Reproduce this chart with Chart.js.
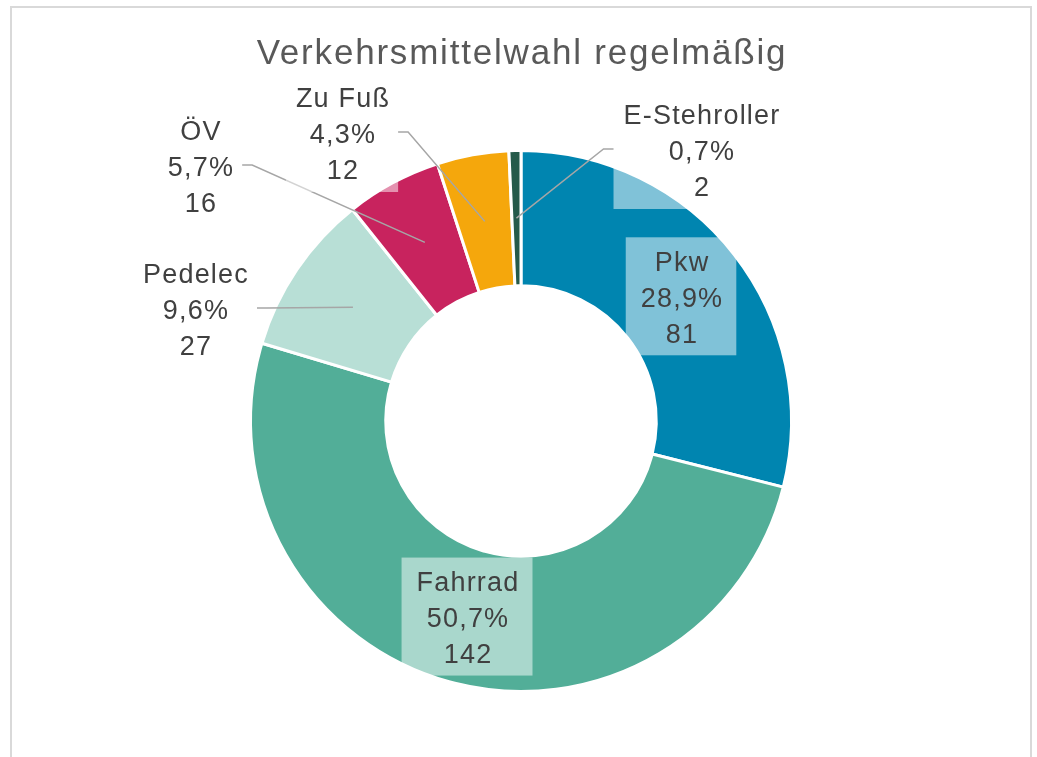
<!DOCTYPE html>
<html>
<head>
<meta charset="utf-8">
<script src="https://cdn.jsdelivr.net/npm/chart.js@4/dist/chart.umd.min.js"></script>
<style>
  html, body { margin: 0; padding: 0; background: #fff; overflow: hidden; }
  #wrap { position: relative; width: 1037px; height: 757px; }
  #frame { position: absolute; left: 10px; top: 6px; width: 1022px; height: 800px; border: 2px solid #d9d9d9; box-sizing: border-box; }
  #box { position: absolute; left: 0; top: 0; width: 1037px; height: 757px; }
</style>
</head>
<body>
<div id="wrap">
  <div id="frame"></div>
  <div id="box"><canvas id="chart"></canvas></div>
</div>
<script>
const chartTitle = 'Verkehrsmittelwahl regelmäßig';
const categories = ['Pkw', 'Fahrrad', 'Pedelec', 'ÖV', 'Zu Fuß', 'E-Stehroller'];
const counts = [81, 142, 27, 16, 12, 2];
const sliceColors = ['#0085b0', '#52ae98', '#b8dfd6', '#c8235e', '#f5a70c', '#255a4a'];

// where each label sits: null = on the slice, else offset from the doughnut centre
const labelOffsets = [null, null, [-326, -112], [-321, -255], [-179, -288], [180, -271]];

const total = counts.reduce((a, b) => a + b, 0);
const pct = v => (v / total * 100).toFixed(1).replace('.', ',') + '%';

const sliceLabels = {
  id: 'sliceLabels',
  afterDatasetsDraw(chart) {
    const { ctx, chartArea } = chart;
    const meta = chart.getDatasetMeta(0);

    // title
    ctx.save();
    ctx.font = '35px "Liberation Sans", Arial, sans-serif';
    ctx.letterSpacing = '1.8px';
    ctx.fillStyle = '#595959';
    ctx.textAlign = 'center';
    ctx.textBaseline = 'alphabetic';
    ctx.fillText(chartTitle, (chartArea.left + chartArea.right) / 2 + 1, 64);
    ctx.restore();

    ctx.save();
    ctx.font = '27px "Liberation Sans", Arial, sans-serif';
    ctx.letterSpacing = '1.2px';
    const lineH = 36;
    meta.data.forEach((arc, i) => {
      const lines = [categories[i], pct(counts[i]), String(counts[i])];
      const anchor = arc.tooltipPosition();
      const off = labelOffsets[i];
      const cx = off ? arc.x + off[0] : anchor.x;
      const cy = off ? arc.y + off[1] : anchor.y;
      const padX = off ? 9 : 14;
      const w = Math.max(...lines.map(t => ctx.measureText(t).width)) + padX * 2;
      const h = lines.length * lineH + 10;
      const left = cx - w / 2, top = cy - h / 2;

      ctx.fillStyle = 'rgba(255,255,255,0.5)';
      ctx.fillRect(left, top, w, h);

      if (off) {
        const side = anchor.x > cx ? 1 : -1;
        const edgeX = side > 0 ? left + w : left;
        ctx.strokeStyle = '#a6a6a6';
        ctx.lineWidth = 1.5;
        ctx.beginPath();
        ctx.moveTo(edgeX, cy - 1);
        ctx.lineTo(edgeX + side * 10, cy - 1);
        ctx.lineTo(anchor.x, anchor.y);
        ctx.stroke();
      }

      ctx.fillStyle = '#404040';
      ctx.textAlign = 'center';
      ctx.textBaseline = 'middle';
      lines.forEach((t, k) => {
        ctx.fillText(t, cx + 1, cy + 3 + (k - 1) * lineH);
      });
    });
    ctx.restore();
  }
};

new Chart(document.getElementById('chart'), {
  type: 'doughnut',
  data: {
    labels: categories,
    datasets: [{
      data: counts,
      backgroundColor: sliceColors,
      borderColor: '#ffffff',
      borderWidth: 3,
      hoverOffset: 0
    }]
  },
  options: {
    responsive: true,
    maintainAspectRatio: false,
    animation: false,
    cutout: '50%',
    layout: { padding: { top: 149, bottom: 64, left: 5, right: 0 } },
    plugins: {
      legend: { display: false },
      tooltip: { enabled: false },
      title: { display: false }
    }
  },
  plugins: [sliceLabels]
});
</script>
</body>
</html>
